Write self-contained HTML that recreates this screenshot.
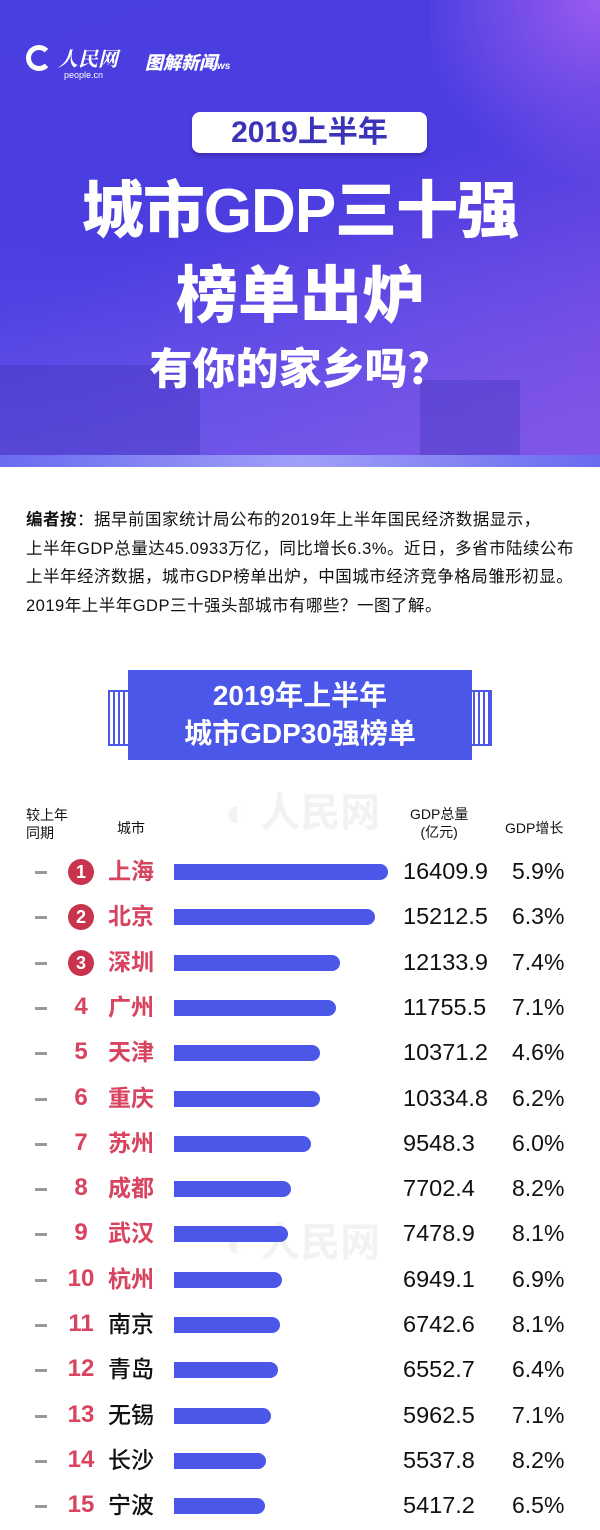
<!DOCTYPE html>
<html><head><meta charset="utf-8"><style>
*{margin:0;padding:0;box-sizing:border-box}
body{width:600px;height:1530px;background:#fff;position:relative;overflow:hidden;font-family:"Liberation Sans","Noto Sans CJK SC",sans-serif}
.a{position:absolute;white-space:nowrap}
.hdr{position:absolute;left:0;top:0;width:600px;height:467px;background:linear-gradient(160deg,#4a3fe0 0%,#4b3de0 45%,#6a48e4 70%,#9a4de0 100%);overflow:hidden}
.sq{position:absolute;background:rgba(200,140,255,.35)}
.t{color:#fff;font-weight:900;text-align:center;width:600px;left:0}
.dash{position:absolute;left:35px;width:12px;height:3px;background:#999}
.rk{position:absolute;width:40px;left:61px;text-align:center;color:#d8435f;font-weight:700;font-size:24px}
.circ{position:absolute;left:68px;width:26px;height:26px;border-radius:50%;background:#c8334e;color:#fff;font-weight:700;font-size:18px;text-align:center;line-height:26px}
.ct{position:absolute;left:108px;font-size:23px;font-weight:700;line-height:30px}
.bar{position:absolute;left:174px;height:16px;background:#4b57e8;border-radius:0 8px 8px 0}
.v{position:absolute;left:403px;font-size:23.5px;color:#111}
.p{position:absolute;left:512px;font-size:23px;color:#111}
</style></head><body>
<div class="hdr">
<div class="sq" style="left:430px;top:0;width:170px;height:200px;background:radial-gradient(circle at 100% 0,rgba(230,120,255,.5),rgba(200,120,255,0) 70%)"></div>
<div style="position:absolute;left:0;top:230px;width:600px;height:230px;background:linear-gradient(180deg,rgba(110,110,255,0),rgba(100,100,240,.45))"></div>
<div style="position:absolute;left:0;top:365px;width:200px;height:100px;background:rgba(60,50,180,.35)"></div>
<div style="position:absolute;left:420px;top:380px;width:100px;height:80px;background:rgba(60,50,180,.35)"></div>
<div style="position:absolute;left:0;top:455px;width:600px;height:12px;background:linear-gradient(90deg,#6a6af0,#9fa0f8,#6a6af0)"></div>
</div>
<div class="a" style="left:26px;top:45px;width:26px;height:26px;border-radius:50%;border:5px solid #fff;border-right-color:transparent"></div>
<div class="a" style="left:58px;top:43px;color:#fff;font-size:20px;font-style:italic;font-weight:700;font-family:'Noto Serif CJK SC',serif">人民网</div>
<div class="a" style="left:64px;top:70px;color:#fff;font-size:9px">people.cn</div>
<div class="a" style="left:145px;top:49px;color:#fff;font-size:18px;font-style:italic;font-weight:900">图解新闻<span style="font-size:10px">ws</span></div>
<div class="a" style="left:192px;top:112px;width:235px;height:41px;background:#fff;border-radius:8px;box-shadow:0 3px 4px rgba(40,20,120,.4);text-align:center;color:#3c34b8;font-size:30px;font-weight:700;line-height:41px">2019上半年</div>
<div class="a t" style="top:172px;font-size:62px;line-height:80px;letter-spacing:-1px">城市GDP三十强</div>
<div class="a t" style="top:258px;font-size:62px;line-height:78px">榜单出炉</div>
<div class="a t" style="top:342px;font-size:43px;line-height:56px">有你的家乡吗？</div>

<div class="a" style="left:26px;top:506px;font-size:16.5px;line-height:28.5px;color:#111;white-space:nowrap;letter-spacing:0.5px">
<b>编者按</b>：据早前国家统计局公布的2019年上半年国民经济数据显示，<br>上半年GDP总量达45.0933万亿，同比增长6.3%。近日，多省市陆续公布<br>上半年经济数据，城市GDP榜单出炉，中国城市经济竞争格局雏形初显。<br>2019年上半年GDP三十强头部城市有哪些？一图了解。</div>

<div class="a" style="left:108px;top:690px;width:22px;height:56px;border:2px solid #4b57e8;border-right:none;background:repeating-linear-gradient(90deg,#fff 0 3px,#4b57e8 3px 5px)"></div>
<div class="a" style="left:470px;top:690px;width:22px;height:56px;border:2px solid #4b57e8;border-left:none;background:repeating-linear-gradient(90deg,#fff 0 3px,#4b57e8 3px 5px)"></div>
<div class="a" style="left:128px;top:670px;width:344px;height:90px;background:#4b57e8;color:#fff;text-align:center;font-size:28px;font-weight:700;line-height:38px;padding-top:7px">2019年上半年<br>城市GDP30强榜单</div>

<div class="a" style="left:225px;top:780px;font-size:40px;color:rgba(0,0,0,.05);font-weight:700">◐ 人民网</div>
<div class="a" style="left:225px;top:1210px;font-size:40px;color:rgba(0,0,0,.05);font-weight:700">◐ 人民网</div>

<div class="a" style="left:26px;top:806px;font-size:14px;line-height:18px;color:#111">较上年<br>同期</div>
<div class="a" style="left:117px;top:818px;font-size:14px;color:#111">城市</div>
<div class="a" style="left:410px;top:805px;font-size:14px;line-height:18px;color:#111;text-align:center">GDP总量<br>(亿元)</div>
<div class="a" style="left:505px;top:818px;font-size:14px;color:#111">GDP增长</div>

<div id="rows"></div>
<script>
var d=[["上海",16409.9,"5.9%"],["北京",15212.5,"6.3%"],["深圳",12133.9,"7.4%"],["广州",11755.5,"7.1%"],["天津",10371.2,"4.6%"],["重庆",10334.8,"6.2%"],["苏州",9548.3,"6.0%"],["成都",7702.4,"8.2%"],["武汉",7478.9,"8.1%"],["杭州",6949.1,"6.9%"],["南京",6742.6,"8.1%"],["青岛",6552.7,"6.4%"],["无锡",5962.5,"7.1%"],["长沙",5537.8,"8.2%"],["宁波",5417.2,"6.5%"]];
var h="";d.forEach(function(r,i){var y=872+i*45.3;var w=30.4+r[1]*0.01119;
h+='<div class="dash" style="top:'+(y-1)+'px"></div>';
if(i<3)h+='<div class="circ" style="top:'+(y-13)+'px">'+(i+1)+'</div>';else h+='<div class="rk" style="top:'+(y-15)+'px">'+(i+1)+'</div>';
h+='<div class="ct" style="top:'+(y-16)+'px;color:'+(i<10?'#d8435f':'#111;font-weight:500')+'">'+r[0]+'</div>';
h+='<div class="bar" style="top:'+(y-8)+'px;width:'+w+'px"></div>';
h+='<div class="v" style="top:'+(y-14)+'px">'+r[1].toFixed(1)+'</div><div class="p" style="top:'+(y-14)+'px">'+r[2]+'</div>';});
document.getElementById("rows").innerHTML=h;
</script>
</body></html>
